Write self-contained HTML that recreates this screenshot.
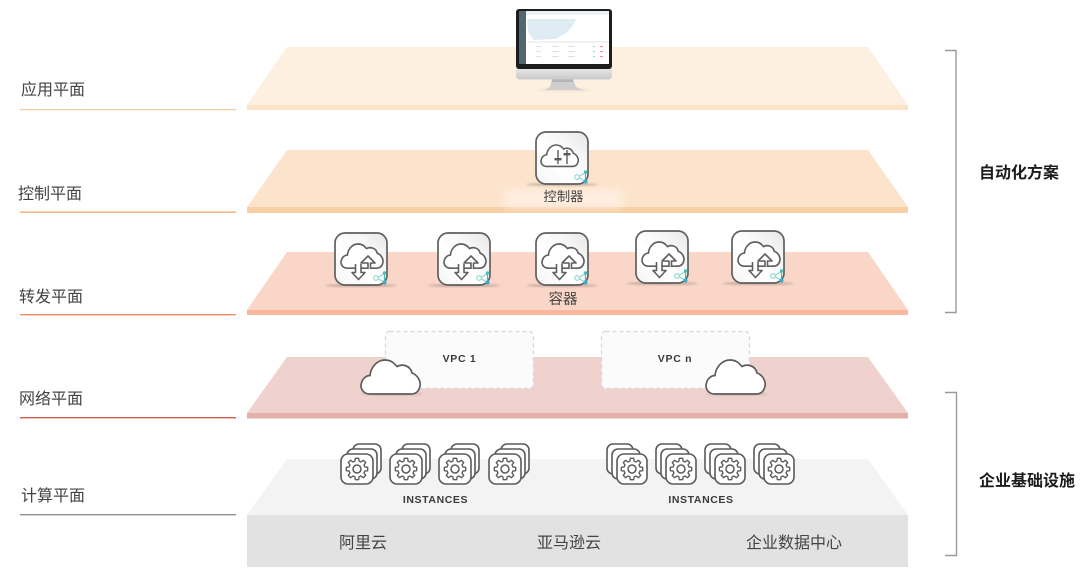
<!DOCTYPE html>
<html lang="zh">
<head>
<meta charset="utf-8">
<title>平面架构图</title>
<style>
html,body{margin:0;padding:0;background:#fff;width:1080px;height:586px;overflow:hidden}
svg{display:block;filter:blur(.35px)}
text{font-family:"Liberation Sans","Noto Sans CJK SC",sans-serif}
.l{font-size:16px;fill:#444}
.b{font-size:16px;font-weight:700;fill:#1c1c1c}
.m{font-size:16px;fill:#444}
.e{font-family:"Liberation Sans",sans-serif;font-weight:700;fill:#3a3a3a}
.s{font-size:13.300px;fill:#444}
</style>
</head>
<body>
<svg width="1080" height="586" viewBox="0 0 1080 586" xmlns="http://www.w3.org/2000/svg">
<defs>
<linearGradient id="gl" x1="1" y1="0" x2="0" y2="1">
<stop offset="0" stop-color="#e6e6e6"/><stop offset=".3" stop-color="#f6f6f6"/><stop offset=".6" stop-color="#fff"/><stop offset="1" stop-color="#f5f5f5"/>
</linearGradient>
<linearGradient id="chin" x1="0" y1="0" x2="0" y2="1"><stop offset="0" stop-color="#e8e8e8"/><stop offset="1" stop-color="#c9c9c9"/></linearGradient>
<filter id="bl" x="-30%" y="-300%" width="160%" height="700%"><feGaussianBlur stdDeviation="1"/></filter>
<filter id="bl4" x="-10%" y="-50%" width="120%" height="200%"><feGaussianBlur stdDeviation="4"/></filter>

<path id="cl" d="M9 34 C1 34 -1 27 .5 23 C1.500 18 6 15.500 9 15.500 C10 6 17 0 24 0 C30 0 33 3 36 6.500 C40 4 49 4.500 51 13 C57 15 60 22 59 26 C58 31 55 34 50 34 Z"/>

<g id="share">
<g fill="none" stroke="#8ad6d0" stroke-width="1.100"><path d="M43 46 L50.500 41.500 M43 46 L50.500 50.500"/><circle cx="42" cy="46" r="2.300" fill="#fff"/></g>
<path d="M50.500 41V50.500" stroke="#4dbdb4" stroke-width="1.300"/>
<circle cx="50.500" cy="41" r="1.700" fill="#4dbdb4"/><circle cx="50.500" cy="50.500" r="2.100" fill="#3fa9c9"/>
</g>

<g id="box">
<ellipse cx="27" cy="53.500" rx="36" ry="1" fill="#6a5a50" opacity=".55" filter="url(#bl)"/>
<rect x="1" y="1" width="52" height="52" rx="10" fill="url(#gl)" stroke="#5f5f5f" stroke-width="1.700"/>
</g>

<g id="vm">
<use href="#box"/>
<use href="#cl" transform="translate(7,12) scale(.71)" fill="#fff" stroke="#5f5f5f" stroke-width="2.300"/>
<path d="M34 37 V31 H27 L34 24 L41 31 H36.500 V37" fill="#fff" stroke="#5f5f5f" stroke-width="1.600" stroke-linejoin="round"/>
<path d="M21.500 32 V40.500 H18 L24.500 47.500 L31 40.500 H27 V32" fill="#fff" stroke="#5f5f5f" stroke-width="1.600" stroke-linejoin="round"/>
<use href="#share"/>
</g>

<g id="gear">
<path transform="scale(.9)" d="M8.690-2.330L11.850-1.880L11.850 1.880L8.690 2.330L7.790 4.500L9.710 7.050L7.050 9.710L4.500 7.790L2.330 8.690L1.880 11.850L-1.880 11.850L-2.330 8.690L-4.500 7.790L-7.050 9.710L-9.710 7.050L-7.790 4.500L-8.690 2.330L-11.850 1.880L-11.850-1.880L-8.690-2.330L-7.790-4.500L-9.710-7.050L-7.050-9.710L-4.500-7.790L-2.330-8.690L-1.880-11.850L1.880-11.850L2.330-8.690L4.500-7.790L7.050-9.710L9.710-7.050L7.790-4.500Z" fill="#fff" stroke="#5a5a5a" stroke-width="1.500" stroke-linejoin="round"/>
<circle r="4" fill="#fff" stroke="#5a5a5a" stroke-width="1.500"/>
</g>

<g id="stackR">
<rect x="12" y="-10" width="28" height="30" rx="6" fill="#fff" stroke="#5a5a5a" stroke-width="1.600"/>
<rect x="6" y="-5" width="30" height="30" rx="6" fill="#fff" stroke="#5a5a5a" stroke-width="1.600"/>
<rect x="0" y="0" width="32" height="30" rx="7" fill="#fff" stroke="#5a5a5a" stroke-width="1.600"/>
<use href="#gear" x="16" y="15"/>
</g>
<g id="stackL">
<rect x="-10" y="-10" width="26" height="30" rx="6" fill="#fff" stroke="#5a5a5a" stroke-width="1.600"/>
<rect x="-5" y="-5" width="28" height="30" rx="6" fill="#fff" stroke="#5a5a5a" stroke-width="1.600"/>
<rect x="0" y="0" width="30" height="30" rx="7" fill="#fff" stroke="#5a5a5a" stroke-width="1.600"/>
<use href="#gear" x="15" y="15"/>
</g>
</defs>

<rect width="1080" height="586" fill="#fff"/>

<!-- planes -->
<polygon points="287,47 868,47 908,105 247,105" fill="#fdf0e0"/>
<rect x="247" y="105" width="661" height="5" fill="#fbe3c6"/>
<polygon points="287,150 868,150 908,207 247,207" fill="#fce4cc"/>
<rect x="247" y="207" width="661" height="6" fill="#f9cfa6"/>
<polygon points="287,252 868,252 908,310 247,310" fill="#fad6c8"/>
<rect x="247" y="310" width="661" height="5" fill="#fab79d"/>
<polygon points="287,357 868,357 908,413 247,413" fill="#efd2cd"/>
<rect x="247" y="413" width="661" height="5.500" fill="#e2b0a8"/>
<polygon points="287,459 868,459 908,515 247,515" fill="#f3f3f3"/>
<rect x="247" y="515" width="661" height="52" fill="#e2e2e2"/>

<!-- left rules -->
<rect x="20" y="109" width="216" height="1.300" fill="#f6cda6"/>
<rect x="20" y="211.500" width="216" height="1.300" fill="#f0aa6c"/>
<rect x="20" y="314" width="216" height="1.400" fill="#ee8e5f"/>
<rect x="20" y="417" width="216" height="1.400" fill="#d4604c"/>
<rect x="20" y="514" width="216" height="1.400" fill="#8f8f8f"/>

<!-- left labels -->
<text class="l" x="21" y="95">应用平面</text>
<text class="l" x="18" y="199">控制平面</text>
<text class="l" x="19" y="302">转发平面</text>
<text class="l" x="19" y="404">网络平面</text>
<text class="l" x="21" y="501">计算平面</text>

<!-- right brackets -->
<path d="M945 50.500H956V312.500H945" fill="none" stroke="#9a9a9a" stroke-width="1.400"/>
<path d="M945 392.500H956.500V555.500H945" fill="none" stroke="#9a9a9a" stroke-width="1.400"/>
<text class="b" x="979" y="178">自动化方案</text>
<text class="b" x="979" y="486">企业基础设施</text>

<!-- monitor -->
<ellipse cx="564" cy="90" rx="26" ry="1" fill="#c9bfb2" opacity=".5" filter="url(#bl)"/>
<path d="M552 79H573L576 87L583 90H545L550 87Z" fill="#cfcfcf"/>
<rect x="552" y="79" width="21" height="3" fill="#b5b5b5"/>
<path d="M516 68H612V76Q612 79.500 608 79.500H520Q516 79.500 516 76Z" fill="url(#chin)"/>
<rect x="516" y="9" width="96" height="60" rx="3" fill="#1c1c1c"/>
<rect x="519" y="11" width="90" height="53" fill="#fff"/>
<rect x="519" y="11" width="7" height="53" fill="#52666f"/>
<rect x="526" y="11" width="83" height="4" fill="#eef1f3"/>
<polygon points="527,19 576,19 572,27 566,33 556,39 534,40 528,32" fill="#e0ecf4"/>
<path d="M527 42H609" stroke="#dedede" stroke-width=".7"/>
<g fill="#e2e2e2">
<rect x="536" y="46" width="5" height="1"/><rect x="536" y="51" width="5" height="1"/><rect x="536" y="56" width="5" height="1"/>
<rect x="552" y="46" width="7" height="1"/><rect x="552" y="51" width="7" height="1"/><rect x="552" y="56" width="7" height="1"/>
<rect x="568" y="46" width="7" height="1"/><rect x="568" y="51" width="7" height="1"/><rect x="568" y="56" width="7" height="1"/>
</g>
<g fill="#a5d3ae"><rect x="593" y="46" width="2" height="1"/><rect x="593" y="51" width="2" height="1"/><rect x="593" y="56" width="2" height="1"/></g>
<g fill="#e09aa0"><rect x="600" y="46" width="3" height="1.200"/><rect x="600" y="51" width="3" height="1.200"/><rect x="600" y="56" width="3" height="1.200"/></g>

<!-- controller -->
<rect x="505" y="190" width="117" height="17" fill="#feeee0" filter="url(#bl4)"/>
<g transform="translate(535,131)">
<use href="#box"/>
<use href="#cl" transform="translate(6,14) scale(.63)" fill="#fff" stroke="#5f5f5f" stroke-width="2.500"/>
<path d="M23 19V33 M32 19V33" stroke="#5a5a5a" stroke-width="1.400" fill="none"/>
<rect x="19.500" y="27" width="7" height="2.400" fill="#5a5a5a"/>
<rect x="28.500" y="22" width="7" height="2.400" fill="#5a5a5a"/>
<use href="#share"/>
</g>
<text class="s" x="563.500" y="201" text-anchor="middle">控制器</text>

<!-- containers -->
<use href="#vm" x="334" y="232"/>
<use href="#vm" x="437" y="232"/>
<use href="#vm" x="535" y="232"/>
<use href="#vm" x="635" y="230"/>
<use href="#vm" x="731" y="230"/>
<text x="563" y="304" text-anchor="middle" style="font-size:14.500px;fill:#444">容器</text>

<!-- VPC -->
<rect x="385.500" y="331.500" width="148" height="57" rx="4" fill="#fbfbfb" stroke="#d6d6d6" stroke-width="1.200" stroke-dasharray="4 3"/>
<rect x="601.500" y="331.500" width="148" height="57" rx="4" fill="#fbfbfb" stroke="#d6d6d6" stroke-width="1.200" stroke-dasharray="4 3"/>
<text class="e" x="459.500" y="362" font-size="10.500" letter-spacing=".7" text-anchor="middle">VPC 1</text>
<text class="e" x="675" y="362" font-size="10.500" letter-spacing=".7" text-anchor="middle">VPC n</text>
<ellipse cx="392" cy="394" rx="31" ry="1" fill="#8a6a64" opacity=".45" filter="url(#bl)"/>
<ellipse cx="737" cy="394" rx="31" ry="1" fill="#8a6a64" opacity=".45" filter="url(#bl)"/>
<use href="#cl" x="361" y="360" fill="#fff" stroke="#5c5c5c" stroke-width="1.700"/>
<use href="#cl" x="706" y="360" fill="#fff" stroke="#5c5c5c" stroke-width="1.700"/>

<!-- instances -->
<use href="#stackR" x="341" y="454"/>
<use href="#stackR" x="390" y="454"/>
<use href="#stackR" x="439" y="454"/>
<use href="#stackR" x="489" y="454"/>
<use href="#stackL" x="617" y="454"/>
<use href="#stackL" x="666" y="454"/>
<use href="#stackL" x="715" y="454"/>
<use href="#stackL" x="764" y="454"/>
<text class="e" x="435.500" y="503" font-size="10.500" letter-spacing=".6" text-anchor="middle">INSTANCES</text>
<text class="e" x="701" y="503" font-size="10.500" letter-spacing=".6" text-anchor="middle">INSTANCES</text>

<!-- bottom labels -->
<text class="m" x="339" y="548">阿里云</text>
<text class="m" x="537" y="548">亚马逊云</text>
<text class="m" x="746" y="548">企业数据中心</text>
</svg>
</body>
</html>
